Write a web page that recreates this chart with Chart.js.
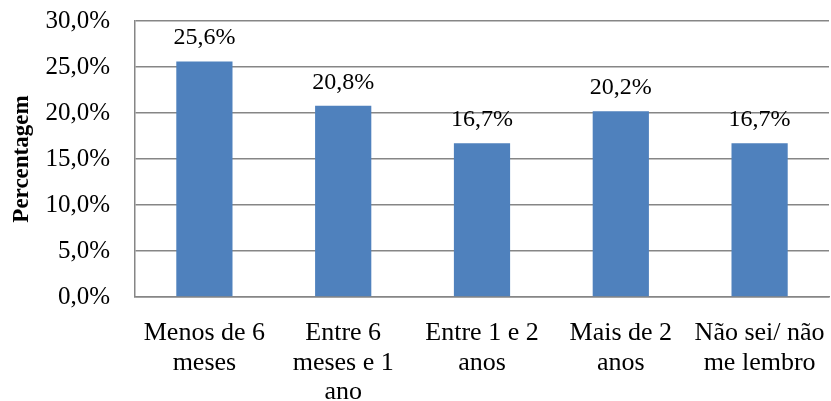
<!DOCTYPE html>
<html>
<head>
<meta charset="utf-8">
<script src="https://cdn.jsdelivr.net/npm/chart.js@4.4.1/dist/chart.umd.min.js"></script>
<style>
  html, body { margin: 0; padding: 0; background: #fff; }
  #wrap { width: 831px; height: 401px; }
</style>
</head>
<body>
<div id="wrap"><canvas id="chart"></canvas></div>
<script>
// categories (multi-line, as in the original)
const categories = [
    ["Menos de 6", "meses"],
    ["Entre 6", "meses e 1", "ano"],
    ["Entre 1 e 2", "anos"],
    ["Mais de 2", "anos"],
    ["Não sei/ não", "me lembro"]
];
const percentages = [25.6, 20.8, 16.7, 20.2, 16.7];
const yTicks = [0, 5, 10, 15, 20, 25, 30];

const FONT = "'Liberation Serif', 'Times New Roman', serif";

// format 25.6 -> "25,6%"
function pct(v){
    return v.toFixed(1).replace(".", ",") + "%";
}

// no extra room for overflowing labels, the layout padding handles it
function noOverflow(scale){
    scale.paddingTop = 0;
    scale.paddingBottom = 0;
    scale.paddingLeft = 0;
    scale.paddingRight = 0;
}

// draw the value above each bar
const valueLabels = {
    id: "valueLabels",
    afterDatasetsDraw: function(chart){
        const ctx = chart.ctx;
        const meta = chart.getDatasetMeta(0);
        ctx.save();
        ctx.font = "24px " + FONT;
        ctx.fillStyle = "#000";
        ctx.textAlign = "center";
        ctx.textBaseline = "alphabetic";
        meta.data.forEach(function(bar, i){
            ctx.fillText(pct(percentages[i]), bar.x, bar.y - 17);
        });
        ctx.restore();
    }
};

new Chart("chart", {
    type: "bar",
    data: {
        labels: categories,
        datasets: [{
            data: percentages,
            backgroundColor: "#4F81BD",
            borderWidth: 0,
            categoryPercentage: 1.0,
            barPercentage: 0.405
        }]
    },
    options: {
        responsive: true,
        maintainAspectRatio: false,
        animation: false,
        layout: { padding: { top: 21, right: 2, left: 0, bottom: 0 } },
        plugins: {
            legend: { display: false },
            tooltip: { enabled: false }
        },
        scales: {
            x: {
                grid: { display: false, drawTicks: false },
                border: { color: "#868686", width: 1.5 },
                ticks: {
                    color: "#000",
                    font: { family: FONT, size: 26, lineHeight: 1.12 },
                    padding: 22,
                    maxRotation: 0,
                    autoSkip: false
                },
                afterFit: function(scale){
                    scale.height = 104;
                    noOverflow(scale);
                }
            },
            y: {
                min: 0,
                max: 30,
                afterBuildTicks: function(scale){
                    scale.ticks = yTicks.map(v => ({ value: v }));
                },
                grid: { color: "#868686", lineWidth: 1.5, drawTicks: false },
                border: { color: "#868686", width: 1.5 },
                ticks: {
                    color: "#000",
                    font: { family: FONT, size: 25 },
                    padding: 25,
                    callback: function(v){ return pct(v); }
                },
                title: {
                    display: true,
                    text: "Percentagem",
                    color: "#000",
                    font: { family: FONT, size: 23, weight: "bold" },
                    padding: { top: 8, bottom: 0 }
                },
                afterFit: function(scale){
                    scale.width = 135;
                    noOverflow(scale);
                }
            }
        }
    },
    plugins: [valueLabels]
});
</script>
</body>
</html>
